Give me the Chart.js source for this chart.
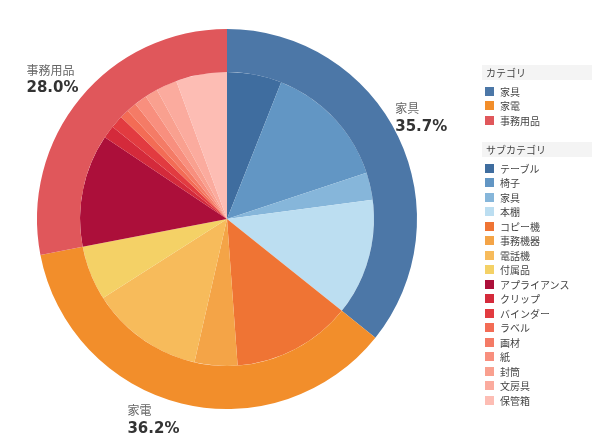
<!DOCTYPE html>
<html lang="ja">
<head>
<meta charset="utf-8">
<script src="https://cdn.jsdelivr.net/npm/chart.js@4/dist/chart.umd.min.js"></script>
<style>
  html, body { margin: 0; padding: 0; background: #fff; }
  #wrap { position: relative; width: 592px; height: 435px; overflow: hidden; }
  #chart-box { position: absolute; left: 0; top: 0; width: 592px; height: 435px; }
  .legend { position: absolute; left: 482px; width: 110px; font-family: "Noto Sans CJK JP", sans-serif; color: #444; }
  .legend__title { background: #f4f4f4; font-size: 10px; height: 15px; line-height: 15px; padding-left: 4px; margin-bottom: 4px; }
  .legend__item { display: flex; align-items: center; height: 14.5px; font-size: 10px; padding-left: 3px; }
  .legend__swatch { width: 9px; height: 9px; margin-right: 6px; flex: none; }
</style>
</head>
<body>
<div id="wrap">
  <div id="chart-box"><canvas id="pie"></canvas></div>
  <div class="legend" id="legend-cat" style="top:65px"></div>
  <div class="legend" id="legend-sub" style="top:142px"></div>
</div>
<script>
  // ── Data ──
  const categories      = ["家具", "家電", "事務用品"];
  const categoryShares  = [35.7, 36.2, 28.0];
  const categoryColors  = ["#4c77a7", "#f28e2b", "#e0575b"];

  const subcategories   = ["テーブル", "椅子", "家具", "本棚",
                           "コピー機", "事務機器", "電話機", "付属品",
                           "アプライアンス", "クリップ", "バインダー", "ラベル", "画材", "紙", "封筒", "文房具", "保管箱"];
  const subShares       = [6.0, 13.9, 3.0, 12.8,
                           13.1, 4.7, 12.4, 6.0,
                           12.4, 1.4, 1.4, 1.0, 1.1, 1.4, 1.4, 2.3, 5.6];
  const subColors       = ["#3f6d9f", "#6296c4", "#86b6da", "#bcdef1",
                           "#ef7434", "#f4a447", "#f7bb5b", "#f4d166",
                           "#ac0f3a", "#d42a3b", "#e23b40", "#f36c55", "#f47b66", "#f88f7e", "#f9a08f", "#fbab9e", "#fdbdb4"];

  // ── Outside labels for the category ring (left-aligned blocks) ──
  const NAME_FONT = '12px "Noto Sans CJK JP", sans-serif';
  const PCT_FONT  = 'bold 15px "DejaVu Sans", sans-serif';

  const ringLabels = {
    id: "ringLabels",
    afterDatasetsDraw(chart) {
      const meta = chart.getDatasetMeta(0);
      const ctx = chart.ctx;
      meta.data.forEach(function (arc, i) {
        const mid = (arc.startAngle + arc.endAngle) / 2;
        const r = arc.outerRadius;
        const px = arc.x + Math.cos(mid) * r;
        const py = arc.y + Math.sin(mid) * r;
        const name = categories[i];
        const pct = categoryShares[i].toFixed(1) + "%";

        ctx.save();
        ctx.font = NAME_FONT;
        var w = ctx.measureText(name).width;
        ctx.font = PCT_FONT;
        w = Math.max(w, ctx.measureText(pct).width);

        const left = px >= arc.x ? px - 3 : px - w - 2;
        const top = py < arc.y ? py - 34 : py + 1;

        ctx.textAlign = "left";
        ctx.textBaseline = "top";
        ctx.fillStyle = "#666";
        ctx.font = NAME_FONT;
        ctx.fillText(name, left, top);
        ctx.fillStyle = "#333";
        ctx.font = PCT_FONT;
        ctx.fillText(pct, left, top + 17);
        ctx.restore();
      });
    }
  };

  new Chart(document.getElementById("pie"), {
    type: "pie",
    data: {
      labels: subcategories,
      datasets: [
        { data: categoryShares, backgroundColor: categoryColors, weight: 43 },
        { data: subShares, backgroundColor: subColors, weight: 147 }
      ]
    },
    options: {
      responsive: true,
      maintainAspectRatio: false,
      animation: false,
      borderWidth: 0,
      hoverOffset: 0,
      layout: { padding: { left: 37, top: 29, right: 175, bottom: 26 } },
      plugins: {
        legend: { display: false },
        tooltip: { enabled: false }
      },
      elements: { arc: { borderWidth: 0 } }
    },
    plugins: [ringLabels]
  });

  // ── HTML legends ──
  function buildLegend(el, title, names, colors) {
    var html = '<div class="legend__title">' + title + '</div>';
    names.forEach(function (n, i) {
      html += '<div class="legend__item"><span class="legend__swatch" style="background:' + colors[i] + '"></span>' + n + '</div>';
    });
    el.innerHTML = html;
  }
  buildLegend(document.getElementById("legend-cat"), "カテゴリ", categories, categoryColors);
  buildLegend(document.getElementById("legend-sub"), "サブカテゴリ", subcategories, subColors);
</script>
</body>
</html>
